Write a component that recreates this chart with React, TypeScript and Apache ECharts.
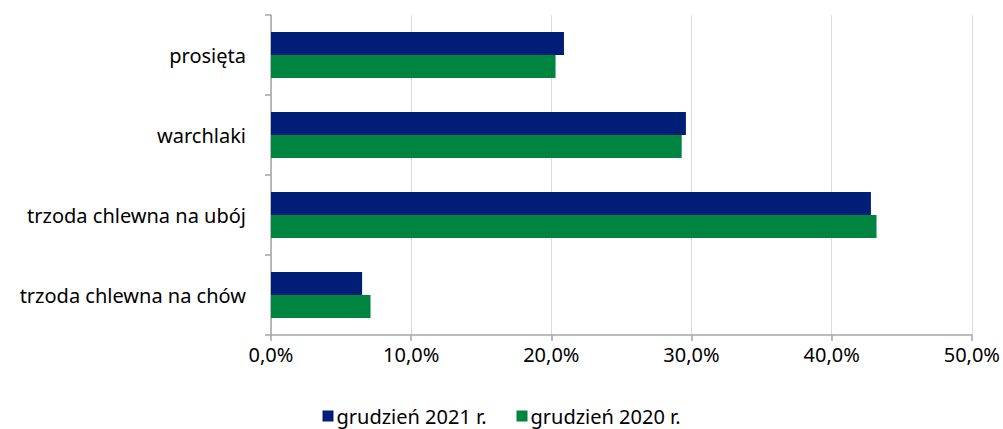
import React, { useEffect, useRef } from "react";
import * as echarts from "echarts";

const categories = ["prosięta", "warchlaki", "trzoda chlewna na ubój", "trzoda chlewna na chów"];
const series2021 = [20.9, 29.6, 42.8, 6.5];
const series2020 = [20.3, 29.3, 43.2, 7.1];
const seriesNames = ["grudzień 2021 r.", "grudzień 2020 r."];

const FONT = "'Noto Sans', sans-serif";

export default function App() {
  const ref = useRef<HTMLDivElement>(null);
  useEffect(() => {
    if (!ref.current) return;
    const chart = echarts.init(ref.current, undefined, { renderer: "svg" });
    chart.setOption({
      animation: false,
      textStyle: { fontFamily: FONT },
      grid: { left: 271, right: 30, top: 15, bottom: 94, containLabel: false },
      legend: {
        top: 406,
        left: "center",
        padding: 0,
        itemWidth: 11,
        itemHeight: 11,
        itemGap: 30,
        icon: "rect",
        textStyle: { fontSize: 20, color: "#000", fontFamily: FONT, padding: [0, 0, 0, -2] },
        data: seriesNames,
      },
      xAxis: {
        type: "value",
        min: 0,
        max: 50,
        interval: 10,
        axisLine: { show: true, lineStyle: { color: "#a6a6a6", width: 1.5 } },
        axisTick: { show: true, length: 6, lineStyle: { color: "#a6a6a6", width: 1.5 } },
        splitLine: { show: true, lineStyle: { color: "#d9d9d9", width: 1 } },
        axisLabel: {
          color: "#000",
          fontSize: 20,
          margin: 9,
          formatter: (v: number) => v.toFixed(1).replace(".", ",") + "%",
        },
      },
      yAxis: {
        type: "category",
        data: categories,
        inverse: true,
        axisLine: { show: true, lineStyle: { color: "#a6a6a6", width: 1.5 } },
        axisTick: { show: true, length: 6, lineStyle: { color: "#a6a6a6", width: 1.5 } },
        axisLabel: { color: "#000", fontSize: 20, margin: 25 },
      },
      series: [
        {
          name: seriesNames[0],
          type: "bar",
          data: series2021,
          itemStyle: { color: "#001e78" },
          barWidth: 23,
          barGap: "0%",
        },
        {
          name: seriesNames[1],
          type: "bar",
          data: series2020,
          itemStyle: { color: "#008540" },
          barWidth: 23,
          barGap: "0%",
        },
      ],
    });
    return () => chart.dispose();
  }, []);
  return <div ref={ref} style={{ width: 1003, height: 429, position: "absolute", left: 0, top: 0 }} />;
}
